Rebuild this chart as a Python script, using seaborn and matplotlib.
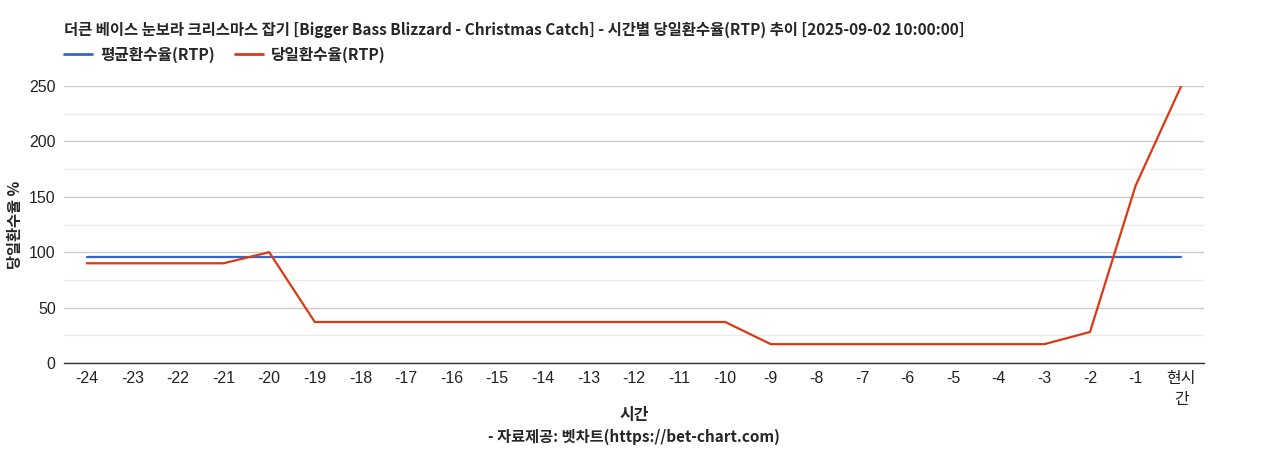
import numpy as np
import pandas as pd
import matplotlib
matplotlib.use("Agg")
import matplotlib.pyplot as plt
from matplotlib.lines import Line2D
import seaborn as sns

hours = ["-24", "-23", "-22", "-21", "-20", "-19", "-18", "-17", "-16", "-15", "-14", "-13",
         "-12", "-11", "-10", "-9", "-8", "-7", "-6", "-5", "-4", "-3", "-2", "-1", "현시\n간"]
avg_rtp = [96] * 25
day_rtp = [90, 90, 90, 90, 100, 37, 37, 37, 37, 37, 37, 37,
           37, 37, 37, 17, 17, 17, 17, 17, 17, 17, 28, 160, 250]

sns.set_theme(style="white")
plt.rcParams['font.family'] = ['Noto Sans CJK KR', 'DejaVu Sans']

df = pd.DataFrame({
    "pos": list(range(len(hours))) * 2,
    "val": avg_rtp + day_rtp,
    "series": ["평균환수율(RTP)"] * len(hours) + ["당일환수율(RTP)"] * len(hours),
})

fig = plt.figure(figsize=(12.68, 4.5), dpi=100)
ax = fig.add_axes([64 / 1268, 1 - 363 / 450, (1204 - 64) / 1268, (363 - 86) / 450])

sns.lineplot(data=df, x="pos", y="val", hue="series",
             palette={"평균환수율(RTP)": "#3366cc", "당일환수율(RTP)": "#dc3912"},
             linewidth=1.6, ax=ax, legend=False)

ax.set_xlim(-0.5, len(hours) - 0.5)
ax.set_ylim(0, 250)
ax.set_yticks([0, 50, 100, 150, 200, 250])
ax.set_yticks([25, 75, 125, 175, 225], minor=True)
ax.grid(axis="y", which="major", color="#cccccc", linewidth=1)
ax.grid(axis="y", which="minor", color="#ebebeb", linewidth=1)
ax.set_axisbelow(True)
ax.set_xticks(range(len(hours)))
ax.set_xticklabels(hours, linespacing=1.45)
for lbl in ax.get_xticklabels() + ax.get_yticklabels():
    lbl.set_fontsize(11.5)
    lbl.set_color("#222222")
    lbl.set_family(['Liberation Sans', 'Noto Sans CJK KR'])
ax.tick_params(axis="both", length=0, pad=6)
for s in ["top", "right", "left"]:
    ax.spines[s].set_visible(False)
ax.spines["bottom"].set_color("#333333")
ax.spines["bottom"].set_linewidth(1)

ax.set_xlabel("시간", fontsize=11.5, fontweight="bold")
ax.xaxis.set_label_coords(0.5, -(415 - 363) / 277)
ax.xaxis.label.set_va("center")
ax.set_ylabel("당일환수율 %", fontsize=11, fontweight="bold")
ax.yaxis.set_label_coords(-49 / 1140, 0.5)
ax.yaxis.label.set_va("center")

fig.text(64 / 1268, 1 - 30 / 450,
         "더큰 베이스 눈보라 크리스마스 잡기 [Bigger Bass Blizzard - Christmas Catch] - 시간별 당일환수율(RTP) 추이 [2025-09-02 10:00:00]",
         fontsize=11.1, fontweight="bold", va="center", ha="left")
fig.text(634 / 1268, 1 - 437 / 450, "- 자료제공: 벳차트(https://bet-chart.com)",
         fontsize=11, fontweight="bold", va="center", ha="center")

handles = [Line2D([], [], color="#3366cc", linewidth=2), Line2D([], [], color="#dc3912", linewidth=2)]
fig.legend(handles, ["평균환수율(RTP)", "당일환수율(RTP)"], loc="center left",
           bbox_to_anchor=(50 / 1268, 1 - 55 / 450), ncol=2, frameon=False,
           prop={"family": ['Noto Sans CJK KR'], "weight": "bold", "size": 11.3},
           handlelength=1.8, handletextpad=0.5, columnspacing=1.25)

fig.savefig("out.png", dpi=100)
